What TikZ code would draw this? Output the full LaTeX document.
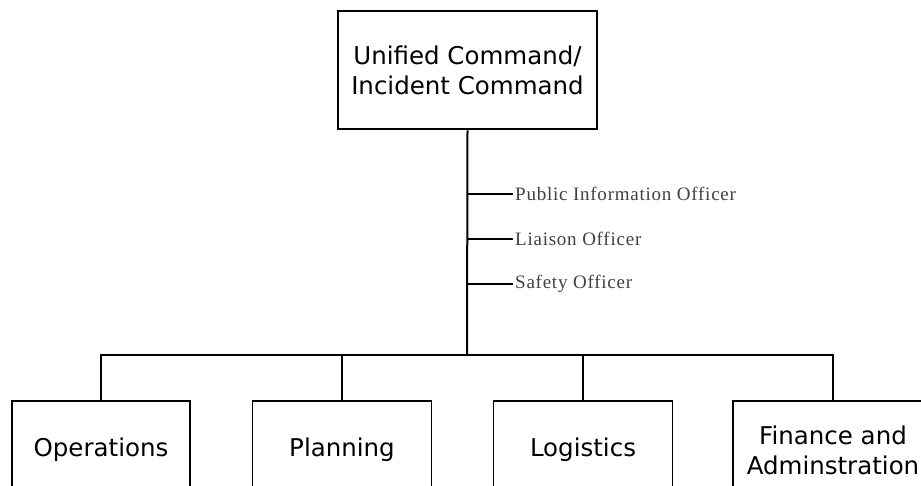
\documentclass[tikz,border=0pt]{standalone}
\usepackage{fontspec}
\newfontfamily\boxfont{DejaVu Sans}
\newfontfamily\officerfont[LetterSpace=4]{Liberation Serif}
\definecolor{officergray}{HTML}{404040}
\begin{document}
\begin{tikzpicture}[x=1pt,y=-1pt,
  unitbox/.style={draw, line width=1.5pt, inner sep=0pt, align=center,
    font=\boxfont\fontsize{24.5}{30}\selectfont},
  officer/.style={anchor=west, inner sep=2pt, text=officergray,
    font=\officerfont\fontsize{19}{22}\selectfont},
  link/.style={line width=1.5pt}]
\useasboundingbox (0,0) rectangle (921,485);
\clip (0,0) rectangle (921,485);

% command box
\node[unitbox, line width=2.6pt, minimum width=259pt, minimum height=118pt]
  (uc) at (467.5,70) {Unified Command/\\Incident Command};

% general staff sections
\node[unitbox, minimum width=178pt, minimum height=98pt] (ops) at (101,450) {Operations};
\node[unitbox, minimum width=179pt, minimum height=98pt] (pln) at (342,450) {Planning};
\node[unitbox, minimum width=179pt, minimum height=98pt] (log) at (583,450) {Logistics};
\node[unitbox, minimum width=200pt, minimum height=98pt] (fin) at (833,450) {Finance and\\Adminstration};

% command staff
\node[officer] (pio) at (513,194) {Public Information Officer};
\node[officer] (lia) at (513,239) {Liaison Officer};
\node[officer] (saf) at (513,284) {Safety Officer};

\coordinate (bus) at (467,355);

% main stem and staff branches
\draw[line width=2pt] (uc.south) -- (bus);
\draw[link] (uc.south |- pio.west) -- (pio.west);
\draw[link] (uc.south |- lia.west) -- (lia.west);
\draw[link] (uc.south |- saf.west) -- (saf.west);

% section bus
\draw[link] (ops.north) -- (ops.north |- bus) -- (fin.north |- bus) -- (fin.north);
\draw[link] (pln.north) -- (pln.north |- bus);
\draw[link] (log.north) -- (log.north |- bus);
\end{tikzpicture}
\end{document}
